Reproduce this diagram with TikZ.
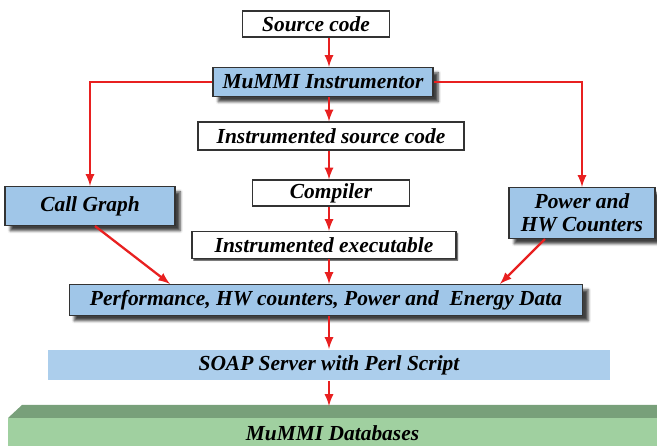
\documentclass[tikz,border=0pt]{standalone}
\usepackage{fontspec}
\setmainfont{Liberation Serif}
\usetikzlibrary{arrows,shadows.blur}
\definecolor{boxblue}{RGB}{160,198,232}
\definecolor{soapblue}{RGB}{172,206,236}
\definecolor{dbgreen}{RGB}{160,208,160}
\definecolor{dbtopgreen}{RGB}{120,160,122}
\definecolor{arrowred}{RGB}{232,32,32}
\tikzstyle{edge} = [draw,line width=1.3pt,-latex,arrowred]
\tikzstyle{box} = [draw=black!80,fill=white,line width=0.6pt,inner sep=1pt,align=center,font=\fontsize{12.2}{13}\selectfont\bfseries\itshape]
\tikzstyle{bluebox} = [box,fill=boxblue,blur shadow={shadow xshift=3pt,shadow yshift=-3pt,shadow blur radius=1.5pt,shadow opacity=75}]

\begin{document}
\begin{tikzpicture}[x=0.02cm,y=-0.02cm]
				\useasboundingbox (0,0) rectangle (657,446);
				\node[box,minimum width=2.94cm,minimum height=0.52cm] (src) at (316,24) {Source code};
				\node[bluebox,minimum width=4.4cm,minimum height=0.58cm] (instr) at (323,82) {MuMMI Instrumentor};
				\node[box,minimum width=5.32cm,minimum height=0.56cm] (isrc) at (331,136) {Instrumented source code};
				\node[box,minimum width=3.14cm,minimum height=0.52cm] (comp) at (331,193) {Compiler};
				\node[box,minimum width=5.28cm,minimum height=0.54cm,blur shadow={shadow xshift=1pt,shadow yshift=-1pt,shadow blur radius=0.5pt,shadow opacity=80}] (exe) at (324,245) {Instrumented executable};
				
				\node[bluebox,minimum width=3.4cm,minimum height=0.78cm] (cg) at (90,206) {Call Graph};
				\node[bluebox,minimum width=2.92cm,minimum height=1.02cm] (pw) at (582,213) {Power and\\HW Counters};
				
				\node[bluebox,minimum width=10.28cm,minimum height=0.62cm] (perf) at (326,300) {Performance, HW counters, Power and~ Energy Data};
				\node[box,draw=none,fill=soapblue,minimum width=11.24cm,minimum height=0.62cm] (soap) at (329,365) {SOAP Server with Perl Script};
				
				% database slab
				\fill[dbtopgreen] (8,418) -- (22,405) -- (657,405) -- (657,418) -- cycle;
				\node[box,draw=none,fill=dbgreen,minimum width=12.98cm,minimum height=0.62cm,text depth=-7pt] (db) at (332.5,433) {MuMMI Databases};
				\coordinate (dbtop) at (329,406);
				
				\coordinate (col) at (329,0);
				\foreach \source/ \dest in {src/instr, instr/isrc, isrc/comp, comp/exe, exe/perf, perf/soap}
				\path[edge] (\source.south -| col) -- (\dest.north -| col);
				\path[edge] (soap.south -| col) -- (dbtop);
				
				\path[edge] (instr.west) -| (cg.north);
				\path[edge] (instr.east) -| (pw.north);
				\path[edge] ([xshift=0.1cm]cg.south) -- ([xshift=-3.12cm]perf.north);
				\path[edge] ([xshift=-0.74cm]pw.south) -- ([xshift=3.48cm]perf.north);
			\end{tikzpicture}
\end{document}
